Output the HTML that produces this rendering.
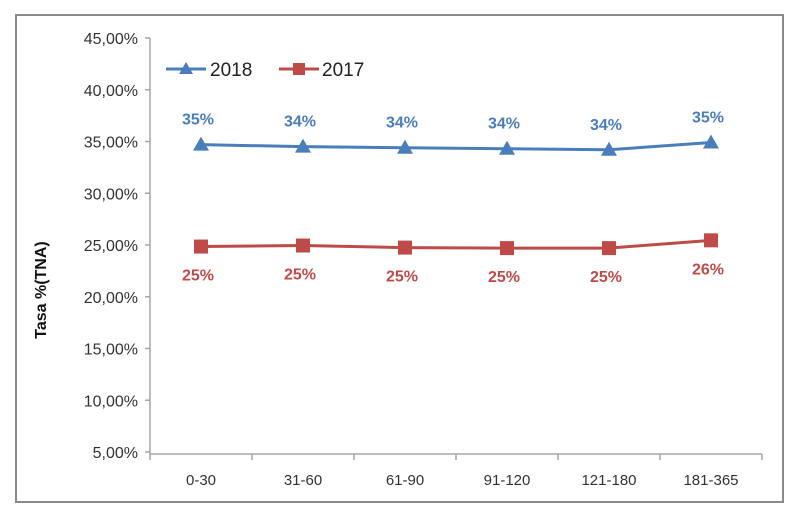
<!DOCTYPE html>
<html><head><meta charset="utf-8"><style>
html,body{margin:0;padding:0;background:#fff;}
svg{display:block;font-family:"Liberation Sans",sans-serif;}
</style></head><body>
<svg id="chart" width="800" height="525" viewBox="0 0 800 525">
<rect x="16" y="15" width="767" height="487" fill="#fff" stroke="#8a8a8a" stroke-width="2"/>
<g id="axes"></g>
<g id="series"></g>
<text transform="translate(46,290) rotate(-90)" text-anchor="middle" font-size="16" font-weight="bold" fill="#111">Tasa %(TNA)</text>
<g>
 <g>
  <line x1="166" y1="69" x2="206" y2="69" stroke="#4a7ebb" stroke-width="3"/>
  <polygon points="186,62 193,74 179,74" fill="#4a7ebb"/>
  <text x="210" y="76" font-size="19" fill="#222">2018</text>
 </g>
 <g>
  <line x1="279" y1="69" x2="319" y2="69" stroke="#be4b48" stroke-width="3"/>
  <rect x="293" y="63" width="12" height="12" fill="#be4b48"/>
  <text x="322" y="76" font-size="19" fill="#222">2017</text>
 </g>
</g>
</svg>
<script>
const categories=["0-30","31-60","61-90","91-120","121-180","181-365"];
const s2018=[34.7,34.5,34.4,34.3,34.2,34.9];
const s2017=[24.85,24.95,24.75,24.7,24.7,25.45];
const labels2018=["35%","34%","34%","34%","34%","35%"];
const labels2017=["25%","25%","25%","25%","25%","26%"];
const yTicks=[5,10,15,20,25,30,35,40,45];

const NS="http://www.w3.org/2000/svg";
const x0=150,x1=762,yTop=38,yBot=452;
const band=(x1-x0)/categories.length;
const xs=i=>x0+band*(i+0.5);
const ys=v=>yBot-(v-5)/40*(yBot-yTop);
function mk(tag,attrs,parent,text){const e=document.createElementNS(NS,tag);for(const k in attrs)e.setAttribute(k,attrs[k]);if(text!==undefined)e.textContent=text;parent.appendChild(e);return e;}
const axes=document.getElementById('axes'),ser=document.getElementById('series');
let e=mk('line',{x1:x0,y1:yTop,x2:x0,y2:yBot+2,stroke:'#a6a6a6','stroke-width':1.5},axes);


e=mk('line',{x1:x0,y1:yBot+2,x2:x1,y2:yBot+2,stroke:'#a6a6a6','stroke-width':1.5},axes);


yTicks.forEach(v=>{
 mk('line',{x1:x0-5,y1:ys(v),x2:x0,y2:ys(v),stroke:'#a6a6a6','stroke-width':1.5},axes);
 const t=mk('text',{x:x0-12,y:ys(v)+6,'text-anchor':'end','font-size':16,fill:'#333'},axes,v.toFixed(2).replace('.',',')+'%');
 
 
});
for(let i=0;i<=categories.length;i++){mk('line',{x1:x0+band*i,y1:yBot+2,x2:x0+band*i,y2:yBot+8,stroke:'#a6a6a6','stroke-width':1.5},axes);}
categories.forEach((c,i)=>{
 const t=mk('text',{x:xs(i),y:485,'text-anchor':'middle','font-size':15,fill:'#333'},axes,c);
 
 
});
function line(vals,color,name){
 const p=mk('polyline',{points:vals.map((v,i)=>xs(i)+','+ys(v)).join(' '),fill:'none',stroke:color,'stroke-width':3},ser);
 
 
}
line(s2018,'#4a7ebb','series-2018');
line(s2017,'#be4b48','series-2017');
s2018.forEach((v,i)=>{
 const x=xs(i),y=ys(v);
 const m=mk('polygon',{points:`${x},${y-8} ${x+8},${y+6} ${x-8},${y+6}`,fill:'#4a7ebb'},ser);
 
 
 const t=mk('text',{x:x-3,y:y-20,'text-anchor':'middle','font-size':16,'font-weight':'bold',fill:'#4a7ebb'},ser,labels2018[i]);
 
 
});
s2017.forEach((v,i)=>{
 const x=xs(i),y=ys(v);
 const m=mk('rect',{x:x-7,y:y-7,width:14,height:14,fill:'#be4b48'},ser);
 
 
 const t=mk('text',{x:x-3,y:y+34,'text-anchor':'middle','font-size':16,'font-weight':'bold',fill:'#be4b48'},ser,labels2017[i]);
 
 
});
</script>
</body></html>
